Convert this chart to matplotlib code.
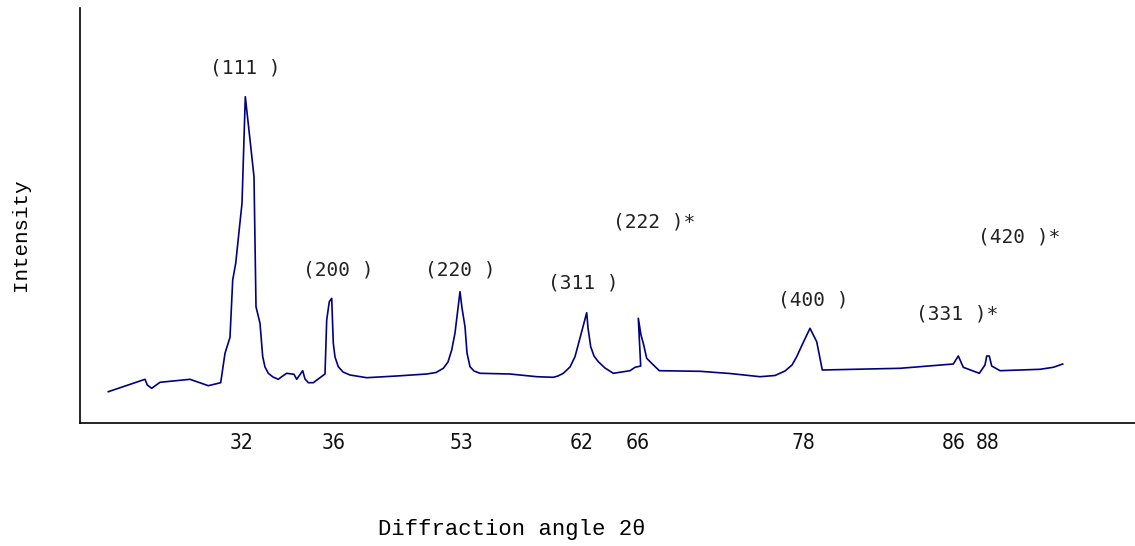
import matplotlib
matplotlib.use("Agg")
import matplotlib.pyplot as plt

# curve: horizontal position along the (non-linear) 2theta axis, intensity (arb. units)
pos = [108.3, 145, 147.3, 151.7, 160, 190, 208.3, 220.7, 225, 230, 232.7, 235.7,
       242, 245.3, 249.3, 254, 256, 260, 262.7, 265, 268.3, 273, 278.3, 282, 286.7,
       294, 296.7, 302.7, 305, 308.3, 313.3, 325, 326.7, 329.3, 331.7, 333.3, 335,
       338.3, 343, 350, 366.7, 396.7, 426.7, 436, 443.3, 448, 451.7, 455, 460,
       462, 465, 467, 470, 474, 480, 510, 536.7, 553.3, 558, 563.3, 570, 575, 580,
       586.7, 588, 590.7, 594, 598.3, 605, 613.3, 630, 635, 640.7, 638.3, 641, 643.3,
       646.7, 651.7, 659.3, 700, 730, 760, 775, 785, 792, 796.7, 803, 810, 816.7,
       822.3, 900, 953.3, 958.3, 963.3, 979.3, 985, 986.7, 989.3, 991.7, 1000,
       1040, 1053.3, 1062.7]
intensity = [31.3, 43.7, 38, 34.7, 40.7, 43.7, 37.3, 40.3, 69.7, 85.7, 143, 159.7,
             219.7, 326.3, 289.7, 246.3, 116.3, 99.7, 66.3, 56, 49.7, 46, 43.7, 46.5, 49.7,
             48.7, 43.7, 52.3, 44, 40.3, 40.3, 49, 103, 121.3, 124.7, 79.7, 66,
             56.3, 51, 48, 45.3, 47, 49, 50.5, 54.7, 61, 73, 90, 131.3,
             115, 96.3, 70, 56.3, 52, 49.7, 49, 46.3, 45.7, 47, 49.7, 56, 66.3, 85,
             110.3, 95, 76.3, 67, 61.3, 55, 49.7, 52.3, 55.7, 57, 104.7, 88, 79.7,
             64.7, 59.7, 52.3, 51.7, 49.5, 46.3, 47.5, 52, 58, 66.3, 80, 94.7, 81.3,
             53, 54.7, 59, 67, 55.7, 49.7, 58, 67, 67, 57, 52.3,
             53.7, 55.7, 59]

# 2theta tick labels and where they sit along the axis
tick_pos = [242, 334, 461, 582, 638, 803, 954, 988]
tick_labels = ["32", "36", "53", "62", "66", "78", "86", "88"]

# peak (hkl) labels
peak_labels = ["(111 )", "(200 )", "(220 )", "(311 )", "(222 )*", "(400 )", "(331 )*", "(420 )*"]
peak_label_xy = [(245, 355), (338, 153), (460, 153), (583, 140), (654, 201),
                 (813, 123), (957, 109), (1019, 186)]

fig = plt.figure(figsize=(11.35, 5.46), dpi=100)
ax = fig.add_axes([80 / 1135, 123 / 546, 1055 / 1135, 415 / 546])

ax.plot(pos, intensity, color="#000080", linewidth=1.2)

for txt, (x, y) in zip(peak_labels, peak_label_xy):
    ax.text(x, y, txt, ha="center", va="center", fontsize=14,
            family=["DejaVu Sans Mono"], color="#222222")

ax.set_xlim(80, 1135)
ax.set_ylim(0, 415)
ax.set_xticks(tick_pos)
ax.set_xticklabels(tick_labels, family=["DejaVu Sans"], fontstretch="condensed",
                   fontsize=15, color="#111111")
ax.tick_params(axis="x", length=0, pad=7)
ax.set_yticks([])
for s in ["top", "right"]:
    ax.spines[s].set_visible(False)
for s in ["left", "bottom"]:
    ax.spines[s].set_linewidth(1.2)

fig.text(512 / 1135, 1 - 530 / 546, "Diffraction angle 2θ", ha="center", va="center",
         fontsize=16, family=["Liberation Mono", "DejaVu Sans Mono"])
fig.text(20 / 1135, 1 - 235 / 546, "Intensity", ha="center", va="center", rotation=90,
         fontsize=15, family=["Liberation Mono", "DejaVu Sans Mono"])

fig.savefig("out.png", dpi=100)
